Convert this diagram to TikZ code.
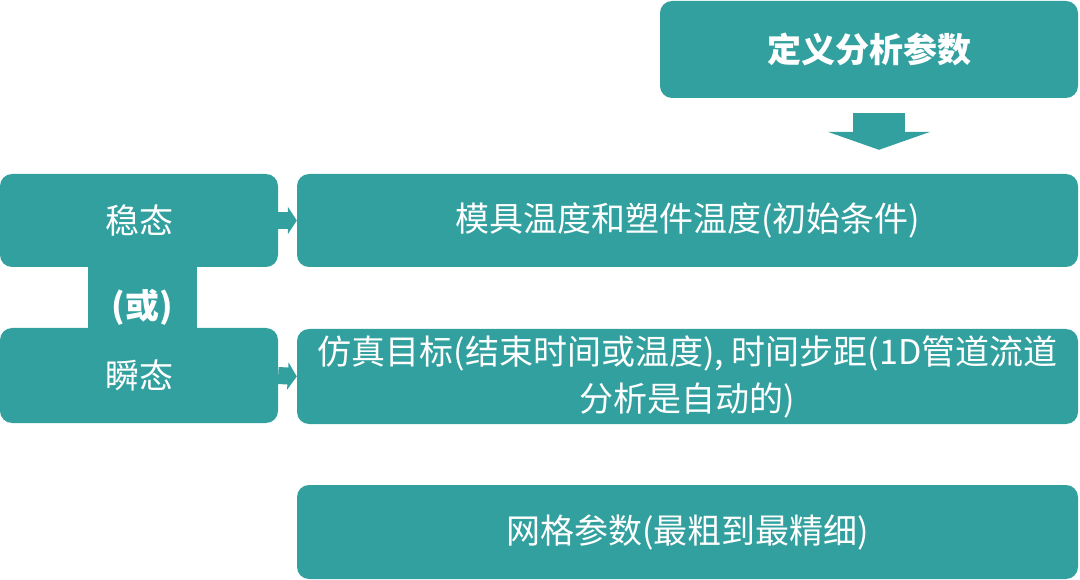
\documentclass[tikz,border=0pt]{standalone}
\usepackage{fontspec}
\newfontfamily\cjk{Noto Sans CJK SC}
\usetikzlibrary{arrows.meta}
\definecolor{tealbox}{RGB}{51,160,160}
\begin{document}
\begin{tikzpicture}[x=1pt, y=-1pt, font=\cjk\fontsize{34}{47}\selectfont, line join=round,
	box/.style={fill=tealbox, text=white, rounded corners=12pt, inner sep=0pt, align=center},
	smallarrow/.style={draw=tealbox, line width=17pt, -{Triangle[width=27pt,length=9pt]}},
	bigarrow/.style={draw=tealbox, line width=52pt, -{Triangle[width=102pt,length=18pt]}}]
	\useasboundingbox (0,0) rectangle (1080,580);
	\node[box, minimum width=418pt, minimum height=97pt, font=\cjk\bfseries\fontsize{34}{47}\selectfont] (def) at (869,49.5) {定义分析参数};
	\node[box, minimum width=781pt, minimum height=93pt] (init) at (687.5,220.5) {模具温度和塑件温度(初始条件)};
	\node[box, minimum width=781pt, minimum height=95pt] (target) at (687.5,376.5) {仿真目标(结束时间或温度), 时间步距(1D管道流道\\分析是自动的)};
	\node[box, minimum width=781pt, minimum height=94pt] (mesh) at (687.5,532) {网格参数(最粗到最精细)};
	\node[box, rounded corners=0pt, minimum width=109pt, minimum height=80pt, font=\cjk\bfseries\fontsize{34}{47}\selectfont] (or) at (142.5,307) {(或)};
	\node[box, minimum width=278pt, minimum height=93pt] (steady) at (139,220.5) {稳态};
	\node[box, minimum width=278pt, minimum height=95pt] (trans) at (139,375.5) {瞬态};
	\draw[bigarrow] ([shift={(10,15)}]def.south) -- ([shift={(10,-24)}]def.south |- init.north);
	\draw[smallarrow] (steady.east) -- (init.west);
	\draw[smallarrow] (trans.east) -- (target.west);
\end{tikzpicture}
\end{document}
